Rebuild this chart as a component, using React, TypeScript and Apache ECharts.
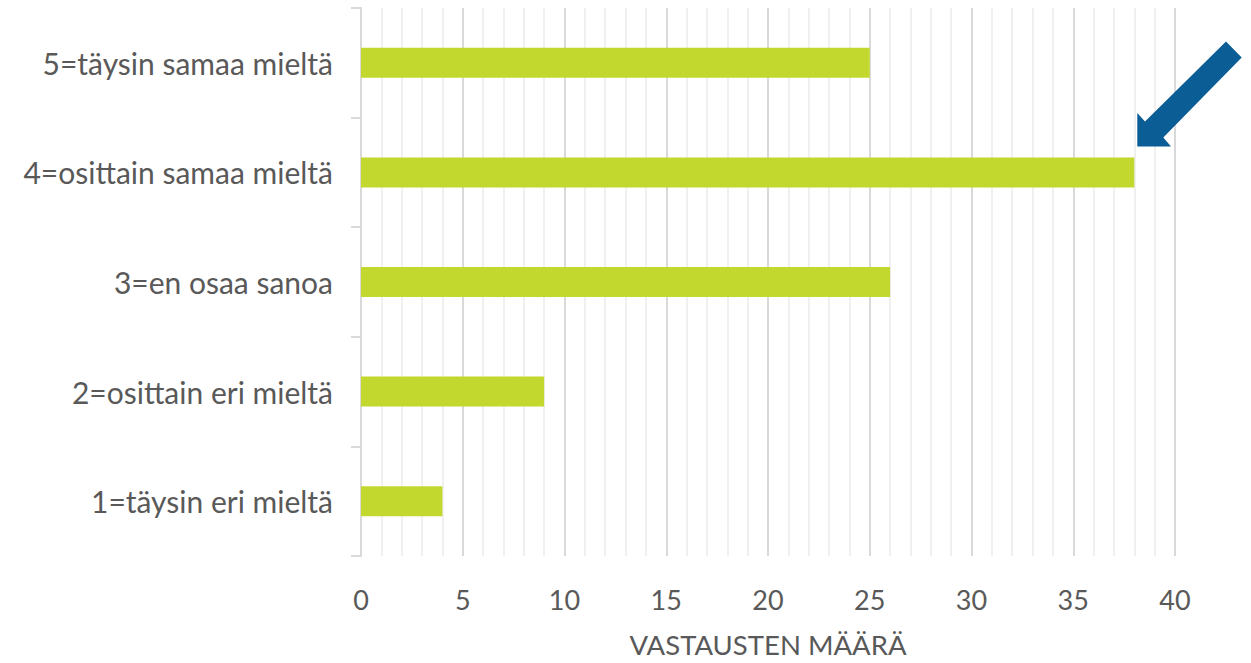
import React, { useEffect, useRef } from "react";
import * as echarts from "echarts";

const categories = [
  "1=täysin eri mieltä",
  "2=osittain eri mieltä",
  "3=en osaa sanoa",
  "4=osittain samaa mieltä",
  "5=täysin samaa mieltä",
];
const values = [4, 9, 26, 38, 25];
const xAxisTitle = "VASTAUSTEN MÄÄRÄ";
const highlightIndex = 3;

const FONT = "Lato";
const TEXT = "#595959";

export default function App() {
  const ref = useRef<HTMLDivElement>(null);
  useEffect(() => {
    if (!ref.current) return;
    const chart = echarts.init(ref.current, null, { renderer: "svg" });
    chart.setOption({
      animation: false,
      grid: { left: 361, top: 8, right: 76, bottom: 103, containLabel: false },
      xAxis: {
        type: "value",
        min: 0,
        max: 40,
        interval: 5,
        name: xAxisTitle,
        nameLocation: "middle",
        nameGap: 74,
        nameTextStyle: { color: TEXT, fontSize: 27.5, fontFamily: FONT },
        axisLine: { show: false },
        axisTick: { show: false },
        axisLabel: { color: TEXT, fontSize: 27, fontFamily: FONT, margin: 30 },
        splitLine: { show: true, lineStyle: { color: "#d9d9d9", width: 2 } },
        minorTick: { show: false, splitNumber: 5 },
        minorSplitLine: { show: true, lineStyle: { color: "#f0f0f0", width: 2 } },
      },
      yAxis: {
        type: "category",
        data: categories,
        axisLine: { show: true, lineStyle: { color: "#d9d9d9", width: 2 } },
        axisTick: { show: true, length: 10, lineStyle: { color: "#d9d9d9", width: 2 } },
        axisLabel: { color: TEXT, fontSize: 30, fontFamily: FONT, margin: 28 },
        splitLine: { show: false },
      },
      series: [
        {
          type: "bar",
          data: values,
          barWidth: 30,
          itemStyle: { color: "#c3d82f" },
        },
      ],
    });
    const p = chart.convertToPixel({ gridIndex: 0 }, [values[highlightIndex], highlightIndex]) as number[];
    if (p) {
      const tx = p[0] + 3;
      const ty = p[1] - 26;
      chart.setOption({
        graphic: [
          {
            type: "polygon",
            shape: {
              points: [
                [tx, ty],
                [tx, ty - 33.3],
                [tx + 7.7, ty - 25],
                [tx + 88.7, ty - 105],
                [tx + 104.4, ty - 89],
                [tx + 26, ty - 9],
                [tx + 33.7, ty],
              ],
            },
            style: { fill: "#0a5d95" },
            z: 100,
          },
        ],
      });
    }
    return () => chart.dispose();
  }, []);
  return (
    <div
      ref={ref}
      style={{ position: "absolute", left: 0, top: 0, width: 1251, height: 663 }}
    />
  );
}
